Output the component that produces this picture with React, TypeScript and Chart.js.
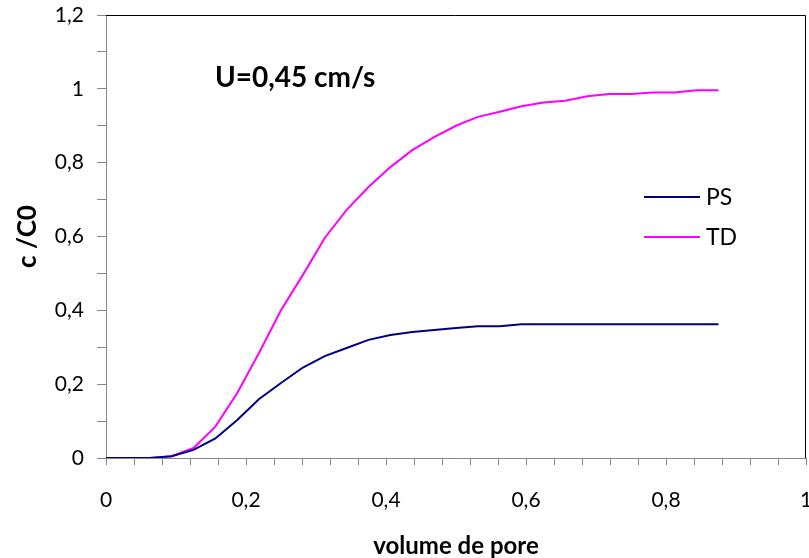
import React, { useEffect, useRef } from "react";
import { Chart, registerables } from "chart.js";

Chart.register(...registerables);

// pore volume (x)
const poreVolume = [
  0, 0.03125, 0.0625, 0.09375, 0.125, 0.15625, 0.1875, 0.21875, 0.25, 0.28125,
  0.3125, 0.34375, 0.375, 0.40625, 0.4375, 0.46875, 0.5, 0.53125, 0.5625,
  0.59375, 0.625, 0.65625, 0.6875, 0.71875, 0.75, 0.78125, 0.8125, 0.84375, 0.875,
];
// C/C0 series
const psValues = [
  0, 0, 0, 0.005, 0.022, 0.053, 0.103, 0.16, 0.203, 0.245, 0.276, 0.298, 0.32,
  0.333, 0.341, 0.347, 0.352, 0.357, 0.357, 0.362, 0.362, 0.362, 0.362, 0.362,
  0.362, 0.362, 0.362, 0.362, 0.362,
];
const tdValues = [
  0, 0, 0, 0.005, 0.027, 0.085, 0.176, 0.285, 0.4, 0.496, 0.596, 0.672, 0.734,
  0.788, 0.834, 0.869, 0.9, 0.924, 0.938, 0.953, 0.963, 0.968, 0.98, 0.986,
  0.986, 0.99, 0.99, 0.996, 0.996,
];
const seriesNames = ["PS", "TD"];
const seriesColors = ["#000080", "#FF00FF"];
const annotationText = "U=0,45 cm/s";
const xTitle = "volume de pore";
const yTitle = "c /C0";

const fmt = (v: number, step: number) => {
  const r = v / step;
  if (Math.abs(r - Math.round(r)) > 1e-6) return "";
  const n = Math.round(v * 10) / 10;
  return String(n).replace(".", ",");
};

const framePlugin = {
  id: "frame",
  beforeDatasetsDraw(chart: any) {
    const { ctx, chartArea } = chart;
    ctx.save();
    ctx.strokeStyle = "#000000";
    ctx.lineWidth = 1;
    ctx.beginPath();
    ctx.moveTo(chartArea.left, chartArea.top + 0.5);
    ctx.lineTo(chartArea.right - 0.5, chartArea.top + 0.5);
    ctx.lineTo(chartArea.right - 0.5, chartArea.bottom);
    ctx.stroke();
    ctx.restore();
  },
  afterDraw(chart: any) {
    const { ctx } = chart;
    ctx.save();
    // annotation
    ctx.fillStyle = "#000";
    ctx.font = "bold 28px Lato";
    ctx.textBaseline = "alphabetic";
    ctx.textAlign = "left";
    ctx.fillText(annotationText, 215, 87);
    // legend
    ctx.font = "23px Lato";
    ctx.textBaseline = "middle";
    const ys = [197, 237];
    chart.data.datasets.forEach((ds: any, i: number) => {
      ctx.strokeStyle = ds.borderColor;
      ctx.lineWidth = 2;
      ctx.beginPath();
      ctx.moveTo(644, ys[i]);
      ctx.lineTo(700, ys[i]);
      ctx.stroke();
      ctx.fillStyle = "#000";
      ctx.fillText(ds.label, 706, ys[i] + 1);
    });
    ctx.restore();
  },
};

export default function App() {
  const ref = useRef<HTMLCanvasElement | null>(null);
  useEffect(() => {
    if (!ref.current) return;
    Chart.defaults.font.family = "Lato";
    const chart = new Chart(ref.current, {
      type: "line",
      data: {
        datasets: [
          {
            label: seriesNames[0],
            data: poreVolume.map((x, i) => ({ x, y: psValues[i] })),
            borderColor: seriesColors[0],
            backgroundColor: seriesColors[0],
            borderWidth: 2,
            pointRadius: 0,
            tension: 0,
          },
          {
            label: seriesNames[1],
            data: poreVolume.map((x, i) => ({ x, y: tdValues[i] })),
            borderColor: seriesColors[1],
            backgroundColor: seriesColors[1],
            borderWidth: 2,
            pointRadius: 0,
            tension: 0,
          },
        ],
      },
      options: {
        animation: false,
        responsive: false,
        layout: { padding: { left: 0, top: 15, right: 3, bottom: 0 } },
        plugins: { legend: { display: false }, tooltip: { enabled: false } },
        scales: {
          x: {
            type: "linear",
            min: 0,
            max: 1,
            afterFit: (s: any) => {
              s.height = 100;
              s.paddingLeft = 0;
              s.paddingRight = 0;
            },
            ticks: {
              stepSize: 0.04,
              autoSkip: false,
              maxRotation: 0,
              minRotation: 0,
              padding: 23,
              color: "#000",
              font: { size: 21, family: "Lato" },
              callback: (v: any) => fmt(Number(v), 0.2),
            },
            grid: {
              drawOnChartArea: false,
              drawTicks: true,
              tickLength: 7,
              color: "#868686",
            },
            border: { display: true, color: "#868686", width: 1 },
            title: {
              display: true,
              text: xTitle,
              color: "#000",
              font: { size: 24, weight: "bold", family: "Lato", lineHeight: 1 },
              padding: { top: 0, bottom: 0 },
            },
          },
          y: {
            type: "linear",
            min: 0,
            max: 1.2,
            afterFit: (s: any) => {
              s.width = 106;
              s.paddingTop = 0;
              s.paddingBottom = 0;
            },
            ticks: {
              stepSize: 0.1,
              autoSkip: false,
              padding: 13,
              color: "#000",
              font: { size: 21, family: "Lato" },
              callback: (v: any) => fmt(Number(v), 0.2),
            },
            grid: {
              drawOnChartArea: false,
              drawTicks: true,
              tickLength: 9,
              color: "#868686",
            },
            border: { display: true, color: "#868686", width: 1 },
            title: {
              display: true,
              text: yTitle,
              color: "#000",
              font: { size: 26, weight: "bold", family: "Lato", lineHeight: 1.1 },
              padding: { top: 13, bottom: 0 },
            },
          },
        },
      },
      plugins: [framePlugin],
    } as any);
    return () => chart.destroy();
  }, []);
  return (
    <div style={{ position: "absolute", left: 0, top: 0, width: 809, height: 558, background: "#fff" }}>
      <canvas ref={ref} width={809} height={558} style={{ display: "block" }} />
    </div>
  );
}
